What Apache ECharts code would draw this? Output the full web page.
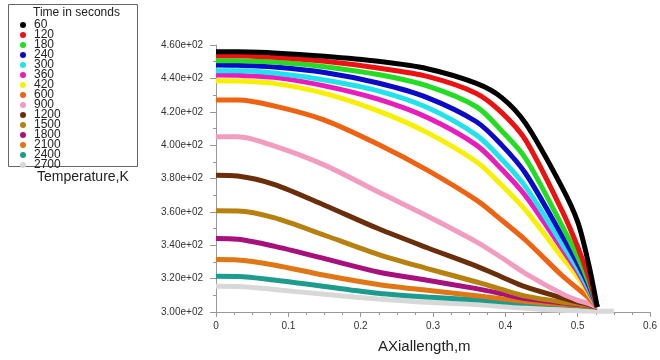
<!DOCTYPE html>
<html>
<head>
    <meta charset="utf-8">
    <title>ECharts</title>
    <script src="https://cdn.jsdelivr.net/npm/echarts@6/dist/echarts.min.js"></script>
</head>
<body style="margin:0;background:#fff">
<div id="main" style="width:660px;height:360px"></div>
<script type="text/javascript">
    // axial positions (m) shared by every curve
    var xs = [0, 0.03, 0.08, 0.15, 0.224, 0.292, 0.36, 0.395, 0.428, 0.478, 0.5, 0.515, 0.527];

    var times = ['60', '120', '180', '240', '300', '360', '420', '600', '900', '1200', '1500', '1800', '2100', '2400', '2700'];
    var colors = ['#000000', '#ee1111', '#22dd22', '#0a0ac8', '#22e2ee', '#ea1cbc', '#f8f000', '#ef6212',
        '#f29cc0', '#6b2e0a', '#b8800e', '#a8107c', '#e07614', '#1c9c8c', '#d8d8d8'];

    // temperature (K) per time, at each xs position
    var t60   = [456, 455.9, 455.2, 453.2, 450.2, 445.8, 437, 428.5, 413, 375, 354, 329, 303];
    var t120  = [453.6, 453.5, 452.6, 450.2, 446.2, 441.2, 431, 419.5, 403, 361, 339, 321, 303];
    var t180  = [450.6, 450.5, 449.8, 447, 442.3, 435.5, 423, 408.5, 392, 352, 333, 318, 303];
    var t240  = [448, 447.8, 446.8, 443.5, 437.2, 428.5, 414, 400, 383, 346, 329, 316, 303];
    var t300  = [444.6, 444.5, 443.2, 439, 432.5, 422.5, 406, 391.5, 375, 341, 326, 314, 303];
    var t360  = [442, 441.8, 440.6, 435.5, 427.5, 416.5, 400, 385.5, 369.5, 338, 324, 312.5, 303];
    var t420  = [438.6, 438.4, 437, 431, 420.5, 407.5, 390, 376, 361, 333, 321, 311, 303];
    var t600  = [427, 427, 423.5, 415, 400.5, 385, 367, 355, 343, 322, 314, 308.5, 303];
    var t900  = [405, 405, 399.5, 388, 372, 357.5, 342, 332.5, 323, 311, 307, 305, 303];
    var t1200 = [382, 381.5, 376.5, 364, 350, 338.5, 327.5, 321, 315, 308.5, 306, 304.5, 303];
    var t1500 = [360.6, 360.5, 356.5, 346, 334.5, 326, 318, 313.5, 309.5, 306, 305, 304, 303];
    var t1800 = [344, 343.6, 339.5, 332, 324, 319, 314, 311, 308, 305.5, 304.5, 303.8, 303];
    var t2100 = [331.4, 331.2, 328.2, 322, 316.5, 313, 309.8, 308, 306.3, 304.6, 304, 303.5, 303];
    var t2400 = [321.4, 321.3, 319.2, 315.3, 311.3, 309, 307.3, 306.2, 305.2, 304.2, 303.7, 303.3, 303];
    var t2700 = [315.4, 315.3, 313.5, 310.6, 307.8, 305.8, 304.5, 303.3, 302.2, 301, 300.7, 300.6, 300.5];
    // the last curve runs on along the axis
    var tailX = [0.55];
    var tailT = [300.5];

    var temps = [t60, t120, t180, t240, t300, t360, t420, t600, t900, t1200, t1500, t1800, t2100, t2400, t2700];

    function pairs(x, y) {
        var out = [];
        for (var i = 0; i < y.length; i++) {
            out.push([x[i], y[i]]);
        }
        return out;
    }

    var series = [];
    for (var i = temps.length - 1; i >= 0; i--) {
        var d = pairs(xs, temps[i]);
        if (i === temps.length - 1) {
            d = d.concat(pairs(tailX, tailT));
        }
        series.push({
            name: times[i],
            type: 'line',
            data: d,
            smooth: 0.3,
            showSymbol: false,
            symbol: 'circle',
            color: colors[i],
            lineStyle: {width: 5, color: colors[i]}
        });
    }

    var myChart = echarts.init(document.getElementById('main'));
    var font = 'Liberation Sans, Arial, sans-serif';

    var option = {
        animation: false,
        textStyle: {fontFamily: font},
        legend: {
            orient: 'vertical',
            left: 15,
            top: 14,
            icon: 'circle',
            itemWidth: 12,
            itemHeight: 6,
            itemGap: -2,
            data: times,
            textStyle: {fontSize: 12, color: '#222'}
        },
        graphic: [
            {
                type: 'rect',
                shape: {x: 8.5, y: 4.5, width: 129, height: 162},
                style: {fill: 'none', stroke: '#666', lineWidth: 1},
                z: -1
            },
            {
                type: 'text',
                left: 33,
                top: 7,
                style: {text: 'Time in seconds', fontSize: 12, fontFamily: font, fill: '#222'}
            },
            {
                type: 'text',
                left: 37,
                top: 170,
                style: {text: 'Temperature,K', fontSize: 14, fontFamily: font, fill: '#222'}
            },
            {
                type: 'text',
                left: 378,
                top: 339,
                style: {text: 'AXiallength,m', fontSize: 15, fontFamily: font, fill: '#222'}
            }
        ],
        grid: {left: 216, right: 6, top: 45, bottom: 48},
        xAxis: {
            type: 'value',
            min: 0,
            max: 0.6,
            interval: 0.1,
            axisLine: {lineStyle: {color: '#999'}},
            axisTick: {length: 5, lineStyle: {color: '#999'}},
            minorTick: {show: true, splitNumber: 4, length: 3, lineStyle: {color: '#999'}},
            splitLine: {show: false},
            axisLabel: {fontSize: 10, color: '#333', margin: 9}
        },
        yAxis: {
            type: 'value',
            min: 300,
            max: 460,
            interval: 20,
            axisLine: {show: true, lineStyle: {color: '#999'}},
            axisTick: {show: true, length: 6, lineStyle: {color: '#999'}},
            minorTick: {show: true, splitNumber: 2, length: 3, lineStyle: {color: '#999'}},
            splitLine: {show: false},
            axisLabel: {
                fontSize: 10,
                color: '#333',
                margin: 13,
                formatter: function (v) {
                    return v.toExponential(2).replace(/e\+(\d)$/, 'e+0$1');
                }
            }
        },
        series: series
    };

    myChart.setOption(option);
</script>
</body>
</html>
